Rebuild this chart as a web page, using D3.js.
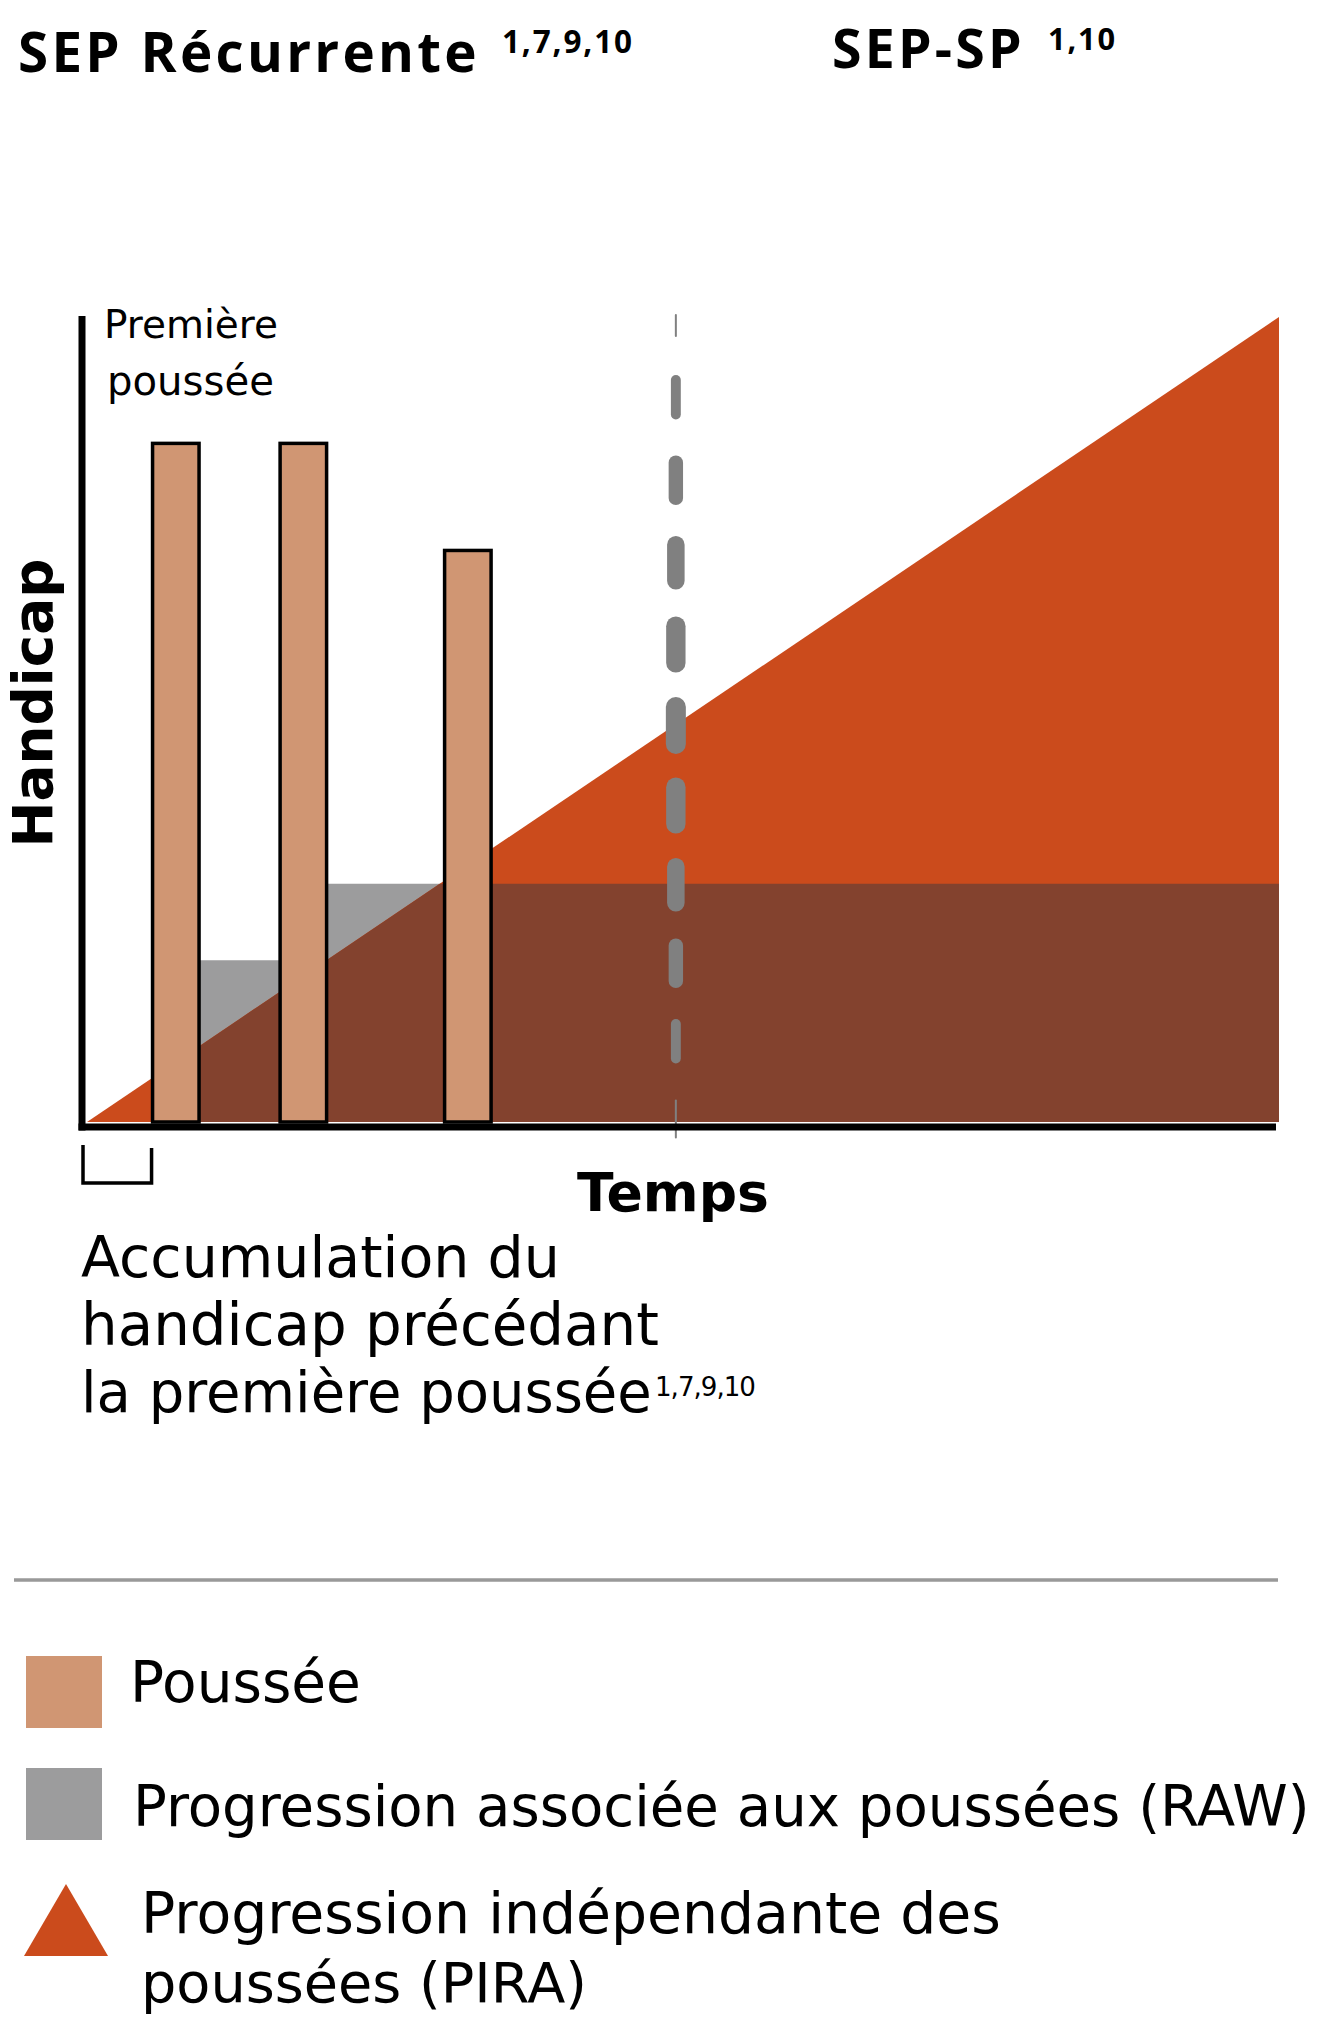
<!DOCTYPE html>
<html lang="fr">
<head>
<meta charset="utf-8">
<script src="https://cdn.jsdelivr.net/npm/d3@7"></script>
<style>
  body { margin: 0; background: #fff; }
  text { font-family: "DejaVu Sans", sans-serif; fill: #000; }
  .head { font-family: "Open Sans", sans-serif; font-weight: 700; letter-spacing: 0.06em; }
</style>
</head>
<body>
<script>
// time runs 0..100 along the sketch, handicap 0..100 up the side
var relapseStart = [5.5, 16.2, 30.0];
var relapseEnd = [9.4, 20.1, 33.9];
var relapseTop = [84.3, 84.3, 71.0];

// RAW: handicap left over after each relapse (step)
var rawTime = [7.5, 18.2, 100];
var rawLevel = [20.1, 29.6, 29.6];

// PIRA: steady worsening from onset
var piraTime = [0, 100];
var piraLevel = [0, 100];

var spTransition = 49.4;

var legendLabels = [
  ["Poussée"],
  ["Progression associée aux poussées (RAW)"],
  ["Progression indépendante des", "poussées (PIRA)"]
];
var legendShapes = ["square", "square", "triangle"];

var colors = {
  relapse: "#D09673",
  raw: "#9C9C9D",
  pira: "#CB4B1C",
  overlap: "#83422E",
  dash: "#808080"
};

var svgWidth = 1330;
var svgHeight = 2034;

var svg = d3.select("body").append("svg")
  .attr("width", svgWidth)
  .attr("height", svgHeight);

var x = d3.scaleLinear().domain([0, 100]).range([87, 1279]);
var y = d3.scaleLinear().domain([0, 100]).range([1122, 317]);

// stretch a text to the width it takes in the sketch
function fit(t, w) {
  var len = t.node().getComputedTextLength();
  var fs = parseFloat(t.attr("font-size"));
  t.attr("font-size", fs * w / len);
  return t;
}

var rawArea = d3.area()
  .x(function(d, i) { return x(rawTime[i]); })
  .y0(y(0))
  .y1(function(d, i) { return y(rawLevel[i]); })
  .curve(d3.curveStepAfter);

var piraArea = d3.area()
  .x(function(d, i) { return x(piraTime[i]); })
  .y0(y(0))
  .y1(function(d, i) { return y(piraLevel[i]); });

svg.append("defs").append("clipPath")
  .attr("id", "rawClip")
  .append("path")
  .attr("d", rawArea(rawTime));

svg.append("path")
  .attr("d", rawArea(rawTime))
  .attr("fill", colors.raw);

svg.append("path")
  .attr("d", piraArea(piraTime))
  .attr("fill", colors.pira);

// where RAW and PIRA overlap
svg.append("path")
  .attr("d", piraArea(piraTime))
  .attr("clip-path", "url(#rawClip)")
  .attr("fill", colors.overlap);

svg.selectAll(".relapse")
  .data(relapseStart)
  .enter()
  .append("rect")
  .attr("class", "relapse")
  .attr("x", function(d) { return x(d); })
  .attr("y", function(d, i) { return y(relapseTop[i]); })
  .attr("width", function(d, i) { return x(relapseEnd[i]) - x(d); })
  .attr("height", function(d, i) { return y(0) - y(relapseTop[i]); })
  .attr("fill", colors.relapse)
  .attr("stroke", "#000")
  .attr("stroke-width", 3.5);

// dashed marker for the switch to SP, dashes fatter and longer in the middle
var nDash = 11;
var dashes = d3.range(nDash).map(function(k) {
  var s = Math.max(314, 375 + 80.5 * (k - 1));
  var len = 39 + 18 * Math.sin(Math.PI * k / 10);
  var e = k === 0 ? 337 : s + len;
  var w = 2 + 18 * Math.pow(Math.sin(Math.PI * k / 10), 0.7);
  return { s: s, e: e, w: w };
});
svg.selectAll(".dash")
  .data(dashes)
  .enter()
  .append("line")
  .attr("class", "dash")
  .attr("x1", x(spTransition))
  .attr("x2", x(spTransition))
  .attr("y1", function(d) { return d.s + d.w / 2; })
  .attr("y2", function(d) { return d.e - d.w / 2; })
  .attr("stroke", colors.dash)
  .attr("stroke-linecap", "round")
  .attr("stroke-width", function(d) { return d.w; });

// axes
var axisX = 82, axisY = 1127;
svg.append("line")
  .attr("x1", axisX).attr("x2", axisX)
  .attr("y1", y(100) - 1).attr("y2", axisY + 3.5)
  .attr("stroke", "#000").attr("stroke-width", 7);
svg.append("line")
  .attr("x1", axisX - 3.5).attr("x2", x(100) - 3)
  .attr("y1", axisY).attr("y2", axisY)
  .attr("stroke", "#000").attr("stroke-width", 7);

// bracket for the pre-relapse period
svg.append("path")
  .attr("d", "M" + (axisX + 1) + ",1145 V1183 H" + (x(relapseStart[0]) - 1) + " V1148")
  .attr("fill", "none")
  .attr("stroke", "#000")
  .attr("stroke-width", 3.5);

// headings
fit(svg.append("text").attr("class", "head").attr("x", 18).attr("y", 72)
  .attr("font-size", 57).text("SEP Récurrente"), 462);
fit(svg.append("text").attr("class", "head").attr("x", 502).attr("y", 53)
  .attr("font-size", 32).text("1,7,9,10"), 132);
fit(svg.append("text").attr("class", "head").attr("x", 832).attr("y", 68)
  .attr("font-size", 57).text("SEP-SP"), 193);
fit(svg.append("text").attr("class", "head").attr("x", 1048).attr("y", 50)
  .attr("font-size", 32).text("1,10"), 69);

// labels inside the chart
fit(svg.append("text").attr("x", 104).attr("y", 338).attr("font-size", 36).text("Première"), 174);
fit(svg.append("text").attr("x", 107).attr("y", 395).attr("font-size", 36).text("poussée"), 167);

fit(svg.append("text")
  .attr("transform", "translate(52,703) rotate(-90)")
  .attr("text-anchor", "middle")
  .attr("font-weight", 700)
  .attr("font-size", 54)
  .text("Handicap"), 289);

fit(svg.append("text").attr("x", 577).attr("y", 1211)
  .attr("font-weight", 700).attr("font-size", 52).text("Temps"), 192);

var noteLines = ["Accumulation du", "handicap précédant", "la première poussée"];
var noteWidths = [479, 578, 571];
noteLines.forEach(function(s, i) {
  fit(svg.append("text").attr("x", 81).attr("y", 1277 + i * 67.5)
    .attr("font-size", 50).text(s), noteWidths[i]);
});
fit(svg.append("text").attr("x", 655).attr("y", 1396)
  .attr("font-size", 26).attr("letter-spacing", -1).text("1,7,9,10"), 100);

// separator
svg.append("line")
  .attr("x1", 14).attr("x2", 1278)
  .attr("y1", 1580).attr("y2", 1580)
  .attr("stroke", "#999").attr("stroke-width", 3.5);

// legend
var legendFill = [colors.relapse, colors.raw, colors.pira];
var legendTop = [1656, 1768, 1884];
var legendTextX = [130, 133, 141];
var legendBase = [1702, 1826, 1933];
var legendWidths = [[231], [1177], [860, 446]];

var legend = svg.selectAll(".legend")
  .data(legendLabels)
  .enter()
  .append("g")
  .attr("class", "legend");

legend.each(function(lines, i) {
  var g = d3.select(this);
  if (legendShapes[i] === "square") {
    g.append("rect")
      .attr("x", 26).attr("y", legendTop[i])
      .attr("width", 76).attr("height", 72)
      .attr("fill", legendFill[i]);
  } else {
    g.append("path")
      .attr("d", d3.line()([[66, legendTop[i]], [108, legendTop[i] + 72], [24, legendTop[i] + 72]]) + "Z")
      .attr("fill", legendFill[i]);
  }
  lines.forEach(function(s, j) {
    fit(g.append("text")
      .attr("x", legendTextX[i])
      .attr("y", legendBase[i] + j * 69)
      .attr("font-size", 52)
      .text(s), legendWidths[i][j]);
  });
});
</script>
</body>
</html>
